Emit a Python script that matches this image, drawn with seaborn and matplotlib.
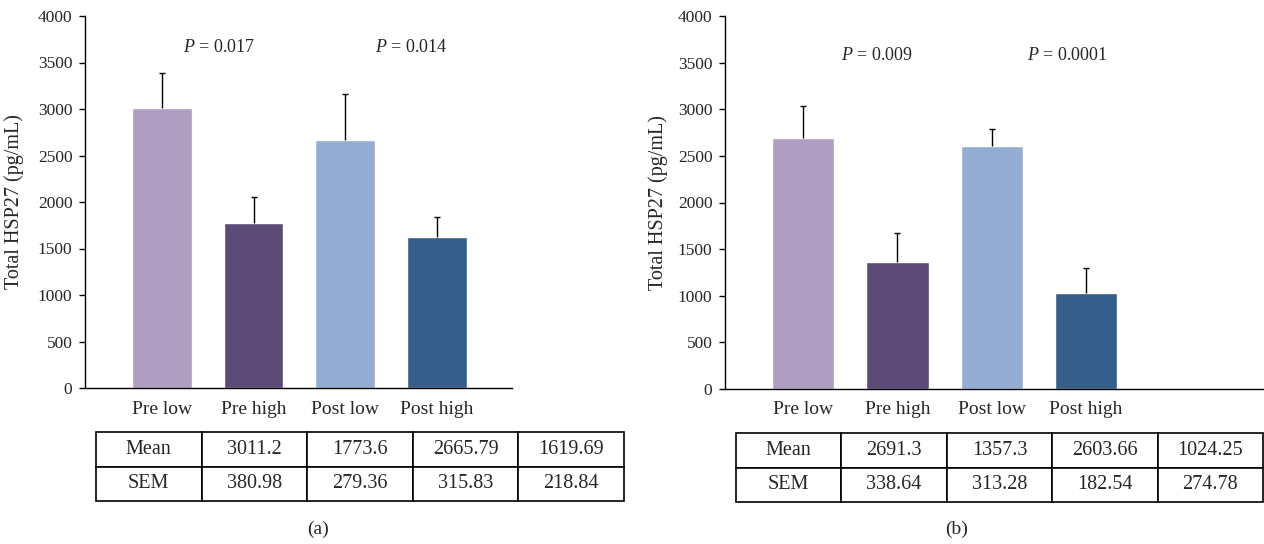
import matplotlib
matplotlib.use("Agg")
import matplotlib.pyplot as plt
import seaborn as sns

# data
groups = ["Pre low", "Pre high", "Post low", "Post high"]
colors = ["#ae9ec2", "#5b4a75", "#93aed2", "#365e8b"]

mean_a = [3011.2, 1773.6, 2665.79, 1619.69]
sem_a = ["380.98", "279.36", "315.83", "218.84"]
err_a = [381, 279, 500, 219]      # error bars as drawn in panel (a)
mean_b = [2691.3, 1357.3, 2603.66, 1024.25]
sem_b = ["338.64", "313.28", "182.54", "274.78"]
err_b = [339, 313, 183, 275]
pvals_a = ["0.017", "0.014"]
pvals_b = ["0.009", "0.0001"]

sns.set_style("white")
plt.rcParams["font.family"] = ["Liberation Serif", "DejaVu Serif"]
plt.rcParams["mathtext.fontset"] = "custom"
plt.rcParams["mathtext.rm"] = "Liberation Serif"
plt.rcParams["mathtext.it"] = "Liberation Serif:italic"

W, H = 1264, 544
fig = plt.figure(figsize=(W / 100, H / 100), dpi=100)


def px(x0, y0, x1, y1):
    return [x0 / W, 1 - y1 / H, (x1 - x0) / W, (y1 - y0) / H]


def panel(box, tbox, means, errs, sems, pvals, ppos, width, xlim, ylab_x, tag, tag_x):
    ax = fig.add_axes(px(*box))
    sns.barplot(x=groups, y=means, hue=groups, palette=colors, legend=False,
                width=width, saturation=1, ax=ax)
    eb = ax.errorbar(range(4), means, yerr=[[0] * 4, errs], fmt="none", ecolor="black",
                     elinewidth=1.0, capsize=2.5, capthick=1.0, zorder=5)
    eb[1][0].set_visible(False)   # upper error only
    ax.set_ylim(0, 4000)
    ax.set_xlim(*xlim)
    ax.set_yticks(range(0, 4001, 500))
    ax.set_ylabel("Total HSP27 (pg/mL)", fontsize=14.5)
    ax.yaxis.set_label_coords(ylab_x, 0.5)
    ax.set_xlabel("")
    sns.despine(ax=ax)
    for s in ["left", "bottom"]:
        ax.spines[s].set_color("black")
        ax.spines[s].set_linewidth(1.0)
    ax.tick_params(axis="y", direction="out", length=4, width=1, pad=5,
                   labelsize=12.5, left=True, color="black")
    ax.tick_params(axis="x", length=0, pad=9, labelsize=14)
    for (xp, yp), p in zip(ppos, pvals):
        ax.text(xp, yp, r"$\it{P}$ = " + p, fontsize=13, ha="left", va="center")

    tax = fig.add_axes(px(*tbox))
    tax.axis("off")
    tbl = tax.table(cellText=[["Mean"] + [f"{m:g}" for m in means], ["SEM"] + sems],
                    cellLoc="center", bbox=[0, 0, 1, 1])
    tbl.auto_set_font_size(False)
    for cell in tbl.get_celld().values():
        cell.set_linewidth(1.2)
        cell.set_edgecolor("black")
        cell.get_text().set_fontsize(14.5)
    fig.text(tag_x / W, 1 - 529 / H, tag, fontsize=14, ha="center", va="center")
    return ax


panel((85, 16, 512, 388), (96, 432, 624, 501), mean_a, err_a, sem_a, pvals_a,
      [(0.23, 3660), (2.32, 3660)], 0.65, (-0.84, 3.82), -0.143, "(a)", 318)
panel((725, 16, 1264, 389), (736, 433, 1263, 502), mean_b, err_b, sem_b, pvals_b,
      [(0.40, 3580), (2.38, 3580)], 0.66, (-0.83, 4.89), -0.106, "(b)", 957)

fig.savefig("out.png", dpi=100)
